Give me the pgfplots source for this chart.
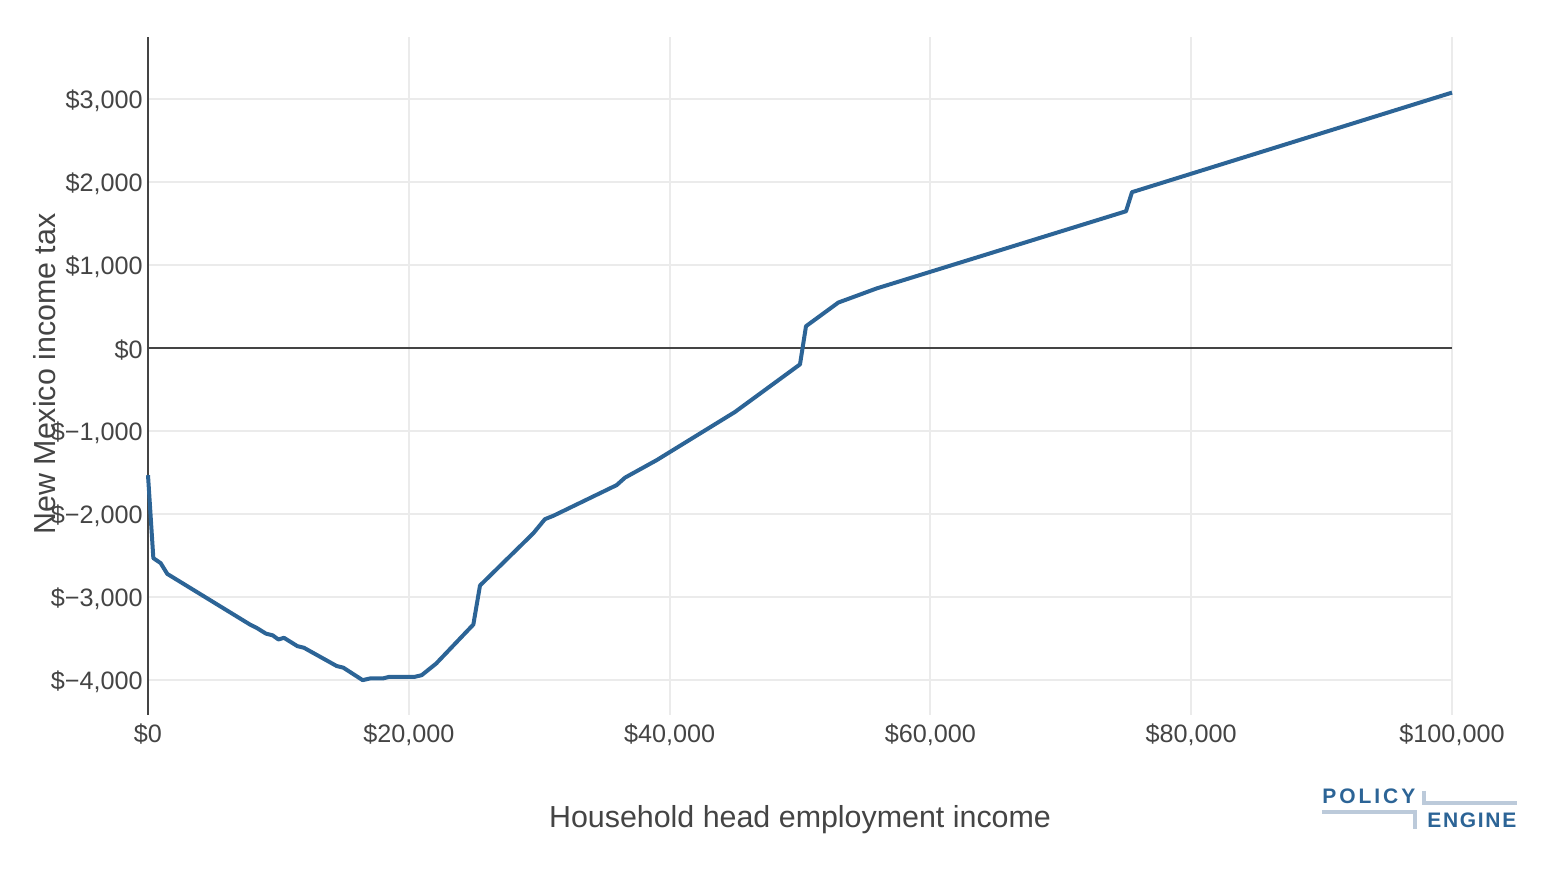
\documentclass[border=0pt]{standalone}
\usepackage{pgfplots}
\pgfplotsset{compat=1.18}
\usepackage{fontspec}
\setmainfont{Liberation Sans}
\newfontfamily\logofont[LetterSpace=14]{Liberation Sans}
\newfontfamily\logofontb[LetterSpace=8]{Liberation Sans}
\definecolor{pe}{HTML}{2C6496}
\definecolor{txt}{HTML}{444444}
\definecolor{gridc}{HTML}{EBEBEB}
\definecolor{logoline}{HTML}{BCCADA}
\begin{document}
\begin{tikzpicture}
\useasboundingbox (0,0) rectangle (776pt,435pt);
\begin{axis}[
  at={(74pt,77.5pt)}, anchor=south west,
  scale only axis, width=652pt, height=339pt,
  xmin=0, xmax=100000, ymin=-4420, ymax=3750,
  scaled x ticks=false, scaled y ticks=false,
  axis line style={draw=none},
  tick style={draw=none},
  grid=major, grid style={gridc, line width=1pt},
  xtick={0,20000,40000,60000,80000,100000},
  xticklabels={{\$0},{\$20,000},{\$40,000},{\$60,000},{\$80,000},{\$100,000}},
  ytick={-4000,-3000,-2000,-1000,0,1000,2000,3000},
  yticklabels={{\$−4,000},{\$−3,000},{\$−2,000},{\$−1,000},{\$0},{\$1,000},{\$2,000},{\$3,000}},
  ticklabel style={font=\fontsize{12.6pt}{14pt}\selectfont, text=txt},
  xticklabel style={anchor=base, yshift=-14pt, inner sep=0pt},
  yticklabel style={anchor=east, inner sep=0pt, xshift=-2.5pt, yshift=-0.8pt},
  clip=false,
]
\draw[txt, line width=1pt] (rel axis cs:0,0) -- (rel axis cs:0,1);
\draw[txt, line width=0.75pt] (axis cs:0,0) -- (axis cs:100000,0);
\addplot[pe, line width=2pt, line join=round] coordinates {
(0,-1530) (410,-2530) (970,-2590) (1480,-2720) (7820,-3330) (8330,-3370)
(9050,-3440) (9560,-3460) (10000,-3510) (10430,-3490) (11450,-3590) (11960,-3610)
(14470,-3830) (14980,-3850) (16460,-4000) (17020,-3980) (18000,-3980) (18500,-3960)
(20470,-3960) (20990,-3940) (22100,-3800) (24950,-3330) (25460,-2860) (29550,-2230)
(30440,-2060) (31080,-2020) (35940,-1650) (36580,-1560) (39000,-1350) (45000,-770)
(50000,-195) (50460,265) (52940,550) (55880,720) (75000,1650) (75460,1880) (100000,3080)
};
\end{axis}
\node[anchor=base, text=txt, font=\fontsize{15.2pt}{18pt}\selectfont, inner sep=0pt] at (400pt,21pt) {Household head employment income};
\node[rotate=90, text=txt, font=\fontsize{15.2pt}{18pt}\selectfont, inner sep=0pt] at (22.5pt,248pt) {New Mexico income tax};
% logo
\node[anchor=base west, inner sep=0pt, text=pe, font=\logofont\bfseries\fontsize{10.5pt}{12pt}\selectfont] at (661pt,33pt) {POLICY};
\node[anchor=base west, inner sep=0pt, text=pe, font=\logofontb\bfseries\fontsize{10.5pt}{12pt}\selectfont] at (713.5pt,21pt) {ENGINE};
\draw[logoline, line width=1.6pt] (661pt,29pt) -- (707.5pt,29pt) -- (707.5pt,20.5pt);
\draw[logoline, line width=1.6pt] (712pt,39.5pt) -- (712pt,33.5pt) -- (758.5pt,33.5pt);
\end{tikzpicture}
\end{document}
